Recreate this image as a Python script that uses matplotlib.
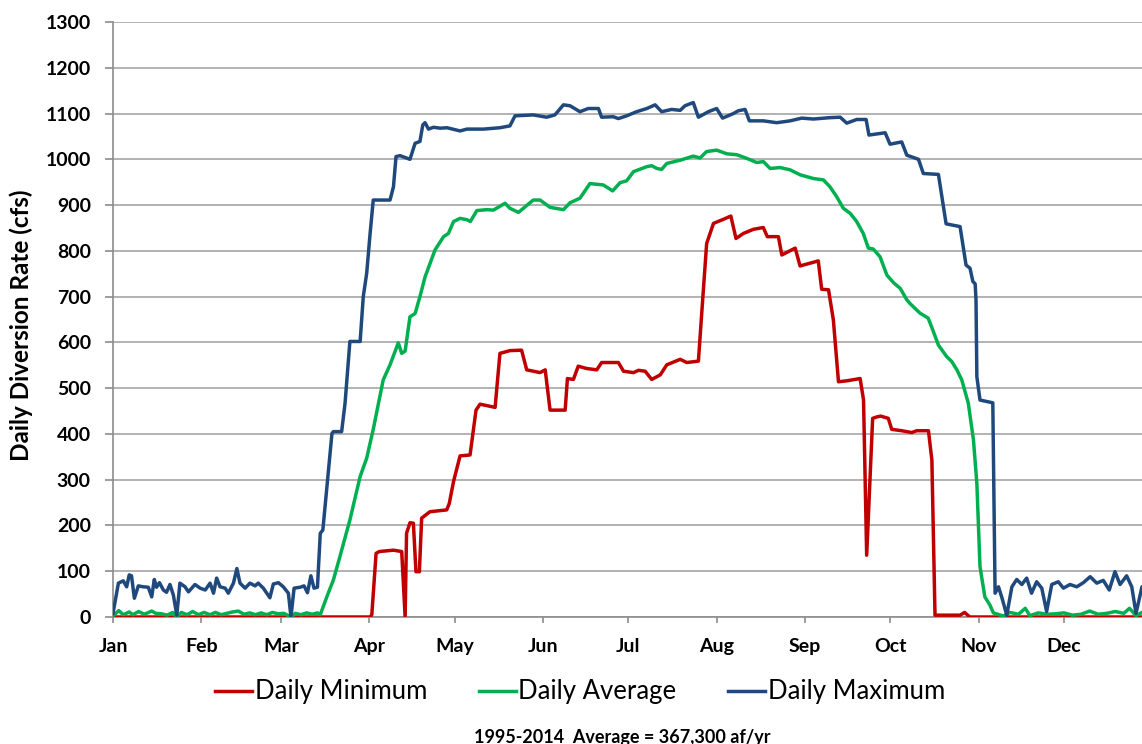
import numpy as np
import matplotlib.pyplot as plt

plt.rcParams['font.family'] = ['Lato', 'DejaVu Sans']

months = ['Jan', 'Feb', 'Mar', 'Apr', 'May', 'Jun', 'Jul', 'Aug', 'Sep', 'Oct', 'Nov', 'Dec']
month_start = [0, 31, 59, 90, 120, 151, 181, 212, 243, 273, 304, 334]

# day of year / daily diversion rate (cfs)
max_day = [0.0, 1.9, 3.6, 4.8, 5.7, 6.5, 7.5, 8.9, 10.6, 12.4, 13.6, 14.5, 15.3, 16.3, 17.7,
           18.8, 20.0, 21.2, 22.4, 23.5, 25.3, 26.5, 28.8, 30.6, 32.4, 34.1, 35.3, 36.4, 37.6,
           39.4, 40.5, 42.3, 43.5, 44.6, 46.4, 48.1, 49.9, 51.0, 52.8, 55.1, 56.3, 58.1, 59.8,
           61.6, 62.5, 63.6, 65.7, 67.1, 68.3, 69.5, 70.6, 71.8, 72.8, 73.7, 75.7, 76.9, 77.4,
           80.3, 81.5, 82.7, 83.2, 86.8, 87.9, 89.1, 90.3, 91.4, 97.3, 98.5, 99.4, 100.8, 104.3,
           106.1, 107.8, 108.8, 109.6, 110.8, 112.6, 114.9, 117.3, 121.9, 124.3, 130.1, 135.9,
           139.4, 141.2, 147.6, 152.3, 155.2, 158.2, 160.5, 164.0, 166.9, 170.5, 171.6, 175.7,
           177.5, 180.4, 183.9, 187.5, 190.4, 192.7, 196.2, 199.2, 200.9, 203.8, 205.6, 209.1,
           212.0, 214.1, 217.9, 219.6, 222.0, 223.5, 228.4, 233.1, 237.8, 241.9, 246.0, 251.8,
           255.4, 257.7, 261.2, 264.5, 265.5, 271.2, 272.9, 277.0, 278.8, 282.9, 284.6, 289.9,
           292.6, 297.5, 299.6, 301.0, 302.0, 302.8, 303.1, 303.4, 304.5, 309.0, 309.8, 311.0,
           312.3, 313.9, 315.7, 317.4, 319.2, 320.9, 322.6, 324.4, 326.2, 327.9, 329.7, 332.0,
           333.8, 336.1, 338.5, 340.8, 343.2, 345.5, 347.8, 349.9, 351.9, 353.7, 356.0, 357.8,
           359.3, 361.4, 363.0]
max_val = [8, 74, 79, 66, 92, 90, 41, 68, 66, 65, 44, 82, 65, 75, 59,
           54, 71, 48, 4, 74, 66, 55, 71, 63, 59, 74, 52, 85, 66,
           63, 52, 74, 106, 74, 63, 74, 68, 74, 63, 42, 72, 75, 66,
           52, 0, 63, 65, 68, 53, 90, 63, 65, 183, 190, 321, 401, 405,
           405, 467, 561, 602, 602, 700, 751, 838, 911, 911, 940, 1006, 1008, 1000,
           1035, 1039, 1075, 1080, 1066, 1070, 1068, 1069, 1062, 1066, 1066, 1069,
           1073, 1095, 1097, 1092, 1097, 1119, 1117, 1104, 1111, 1111, 1092, 1093,
           1089, 1095, 1104, 1111, 1119, 1104, 1109, 1107, 1117, 1124, 1092, 1104,
           1111, 1090, 1100, 1106, 1109, 1084, 1084, 1080, 1084, 1090, 1088, 1091,
           1092, 1079, 1087, 1087, 1053, 1058, 1033, 1038, 1009, 1000, 969, 967,
           859, 853, 769, 762, 733, 728, 693, 525, 474, 468, 52, 66,
           40, 4, 66, 82, 71, 85, 52, 77, 63, 12, 71, 77,
           63, 71, 66, 75, 88, 74, 80, 59, 99, 71, 90, 66,
           8, 66, 70]

avg_day = [0, 2, 3.6, 5.7, 7, 9, 11, 13.6, 15, 17, 19, 21, 22.4, 24, 26, 28, 30, 32, 34,
           36, 38, 40, 42, 44, 46, 48, 50, 52, 54, 56, 58, 60, 62.5, 64, 66, 68, 70, 71.8,
           72.8, 75.1, 77.4, 79.7, 83.2, 86.8, 89.1, 91.4, 94.9, 97.3, 100.2, 101.4, 102.6,
           104.3, 106.1, 107.8, 109.6, 113.1, 116.1, 117.8, 119.6, 121.9, 124.3, 125.5, 127.8,
           131.3, 133.6, 137.7, 139.4, 142.4, 147.6, 150.0, 153.5, 158.2, 160.5, 164.0, 167.5,
           172.2, 175.5, 178.1, 180.4, 182.8, 187.5, 189.2, 191.0, 192.7, 194.5, 199.2, 203.8,
           206.2, 208.5, 212.0, 215.6, 219.1, 222.6, 226.1, 228.4, 230.8, 234.3, 237.8, 241.4,
           246.0, 249.5, 251.8, 254.2, 256.5, 258.9, 261.2, 263.5, 265.3, 267.0, 269.4, 271.8,
           274.2, 276.5, 278.8, 279.9, 283.4, 286.3, 287.5, 289.9, 292.8, 294.6, 296.4, 298.1,
           300.4, 302.2, 303.4, 304.5, 306.2, 308.0, 309.2, 312.7, 315, 318, 320.4, 322, 325,
           328, 331, 334, 337, 340, 343, 346, 349, 352, 355, 357, 359.3, 361.4, 363]
avg_val = [2, 14, 5, 11, 5, 12, 6, 13, 8, 7, 4, 10, 0, 10, 5, 12, 5, 10, 5,
           10, 5, 8, 11, 13, 6, 9, 5, 9, 5, 10, 7, 8, 0, 8, 5, 9, 6, 9,
           5, 44, 81, 132, 212, 307, 347, 410, 518, 551, 599, 576, 581,
           656, 663, 700, 743, 802, 831, 838, 864, 871, 868, 864, 888,
           890, 889, 904, 893, 884, 911, 911, 895, 890, 905, 915, 947,
           944, 931, 949, 953, 973, 984, 986, 980, 978, 991, 998, 1007,
           1003, 1017, 1020, 1012, 1010, 1002, 993, 995, 980, 982, 977, 966,
           958, 955, 940, 918, 893, 882, 864, 838, 806, 804, 787, 747,
           730, 718, 693, 685, 664, 653, 634, 594, 569, 558, 540, 518,
           467, 387, 292, 110, 44, 26, 9, 2, 10, 6, 19, 3, 9,
           6, 7, 9, 4, 6, 13, 6, 8, 12, 8, 19, 3, 10, 8]

min_day = [0, 90.3, 90.9, 92.4, 93.5, 98.5, 101.4, 102.6, 103.1, 104.3, 105.5, 106.4, 107.6,
           108.4, 111.3, 117.2, 118.1, 119.6, 121.9, 125.4, 127.5, 128.9, 134.2, 135.9, 139.4,
           143.5, 145.3, 150.0, 151.8, 153.5, 158.8, 159.6, 161.7, 163.4, 166.3, 169.9, 171.6,
           177.5, 179.3, 182.8, 184.6, 186.9, 189.2, 192.2, 194.5, 199.2, 201.5, 205.6, 207.1,
           208.5, 210.9, 214.4, 217.0, 218.8, 221.4, 224.9, 228.4, 229.8, 233.7, 234.9, 239.6,
           241.3, 247.7, 248.9, 251.3, 253.0, 254.8, 257.7, 262.4, 263.6, 264.7, 266.8, 268.2,
           269.6, 272.3, 273.5, 277.0, 280.5, 282.3, 286.4, 287.6, 288.7, 297.5, 299.1, 300.9,
           363]
min_val = [0, 0, 5, 139, 143, 146, 143, 0, 183, 206, 205, 99, 99,
           216, 230, 234, 248, 296, 352, 354, 452, 465, 458, 576, 582,
           583, 540, 534, 540, 452, 452, 521, 519, 548, 543, 540, 556,
           556, 537, 534, 539, 537, 519, 529, 551, 563, 556, 559, 693,
           816, 860, 869, 876, 827, 838, 847, 851, 831, 831, 791, 806,
           767, 778, 716, 715, 649, 514, 516, 521, 474, 135, 434, 437,
           439, 434, 410, 407, 403, 407, 407, 343, 4, 4, 10, 0,
           0]

series = [('Daily Minimum', min_day, min_val, '#C00000'),
          ('Daily Average', avg_day, avg_val, '#00B050'),
          ('Daily Maximum', max_day, max_val, '#1F497D')]

fig = plt.figure(figsize=(11.42, 7.44), dpi=100)
ax = fig.add_axes([113 / 1142, 1 - 617 / 744, 1 - 113 / 1142, 595 / 744])

for label, d, v, c in series:
    ax.plot(d, v, color=c, lw=2.5, label=label, solid_joinstyle='round', zorder=3)

ax.set_xlim(0, 361.4)
ax.set_ylim(0, 1300)
ax.set_yticks(np.arange(0, 1301, 100))
ax.set_xticks(month_start)
ax.set_xticklabels(months)
ax.grid(axis='y', color='#A6A6A6', lw=1.2)
ax.set_axisbelow(True)
for s in ['top', 'right']:
    ax.spines[s].set_visible(False)
for s in ['left', 'bottom']:
    ax.spines[s].set_color('#8C8C8C')
    ax.spines[s].set_linewidth(1.2)
ax.tick_params(axis='y', length=6, width=1.2, color='#8C8C8C', pad=10, labelsize=14)
ax.tick_params(axis='x', length=4, width=1.2, color='#8C8C8C', pad=11, labelsize=14)
for t in ax.get_xticklabels() + ax.get_yticklabels():
    t.set_fontweight('bold')
ax.set_ylabel('Daily Diversion Rate (cfs)', fontsize=17.5, fontweight='bold')
ax.yaxis.label.set_va('center')
ax.yaxis.set_label_coords(-92 / 1029, 0.49)

fig.legend(loc='center', bbox_to_anchor=(580 / 1142, 1 - 692 / 744), ncol=3, frameon=False,
           fontsize=18.5, handlelength=1.45, handletextpad=0.1, columnspacing=2.0)
fig.text(622 / 1142, 1 - 737 / 744, '1995-2014  Average = 367,300 af/yr', ha='center',
         va='center', fontsize=13, fontweight='bold')

fig.savefig('out.png', dpi=100)
